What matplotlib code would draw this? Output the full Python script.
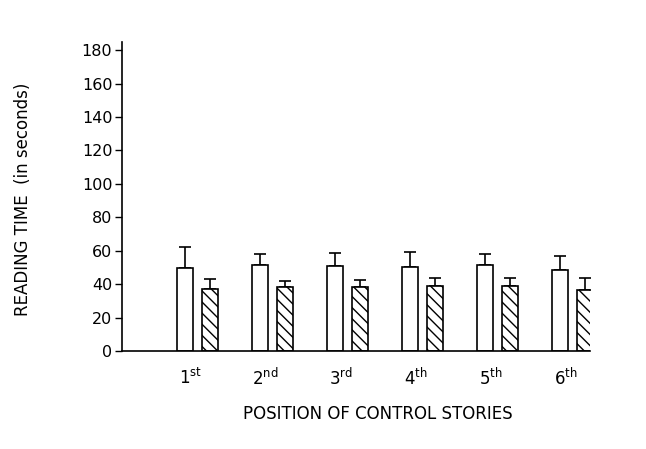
import matplotlib
matplotlib.use("Agg")
import matplotlib.pyplot as plt
import numpy as np

categories = ["1", "2", "3", "4", "5", "6"]
suffixes = ["st", "nd", "rd", "th", "th", "th"]
open_means = [49.5, 51.5, 51, 50.5, 51.5, 48.5]
open_err = [12.5, 6.5, 7.5, 9, 6.5, 8.5]
hatched_means = [37, 38.5, 38.5, 39, 39, 36.5]
hatched_err = [6, 3.5, 4, 4.5, 4.5, 7.5]
yticks = [0, 20, 40, 60, 80, 100, 120, 140, 160, 180]

plt.rcParams['font.family'] = ['DejaVu Sans']
plt.rcParams['mathtext.fontset'] = 'dejavusans'
plt.rcParams['hatch.linewidth'] = 1.0

fig = plt.figure(figsize=(6.46, 4.49), dpi=100)
ax = fig.add_axes([0.189, 0.218, 0.724, 0.689])

x = np.arange(len(categories))
w = 0.215
off = 0.167
ax.bar(x - off, open_means, w, color='white', edgecolor='black', linewidth=1.2, zorder=2)
ax.bar(x + off, hatched_means, w, color='white', edgecolor='black', linewidth=1.2,
       hatch='\\\\\\', zorder=2)
ax.errorbar(x - off, open_means, yerr=[np.zeros(6), open_err], fmt='none',
            ecolor='black', elinewidth=1.2, capsize=4, capthick=1.2, zorder=1)
ax.errorbar(x + off, hatched_means, yerr=[np.zeros(6), hatched_err], fmt='none',
            ecolor='black', elinewidth=1.2, capsize=4, capthick=1.2, zorder=1)

ax.set_xlim(-1.0, 5.23)
ax.set_ylim(0, 185)
ax.set_yticks(yticks)
ax.set_yticklabels([str(t) for t in yticks], fontsize=11.5)
ax.tick_params(axis='y', direction='out', length=5, width=1, pad=2)
ax.set_xticks(x - 0.09)
ax.set_xticklabels([c + r'$^{\mathrm{%s}}$' % s for c, s in zip(categories, suffixes)],
                   fontsize=12)
ax.tick_params(axis='x', length=0, pad=12)
for s in ['top', 'right']:
    ax.spines[s].set_visible(False)
ax.spines['left'].set_linewidth(1.2)
ax.spines['bottom'].set_linewidth(1.2)

fig.text(0.035, 0.555, 'READING TIME  (in seconds)', rotation=90, fontsize=12,
         ha='center', va='center')
fig.text(0.585, 0.078, 'POSITION OF CONTROL STORIES', fontsize=12,
         ha='center', va='center')

fig.savefig('out.png', dpi=100)
